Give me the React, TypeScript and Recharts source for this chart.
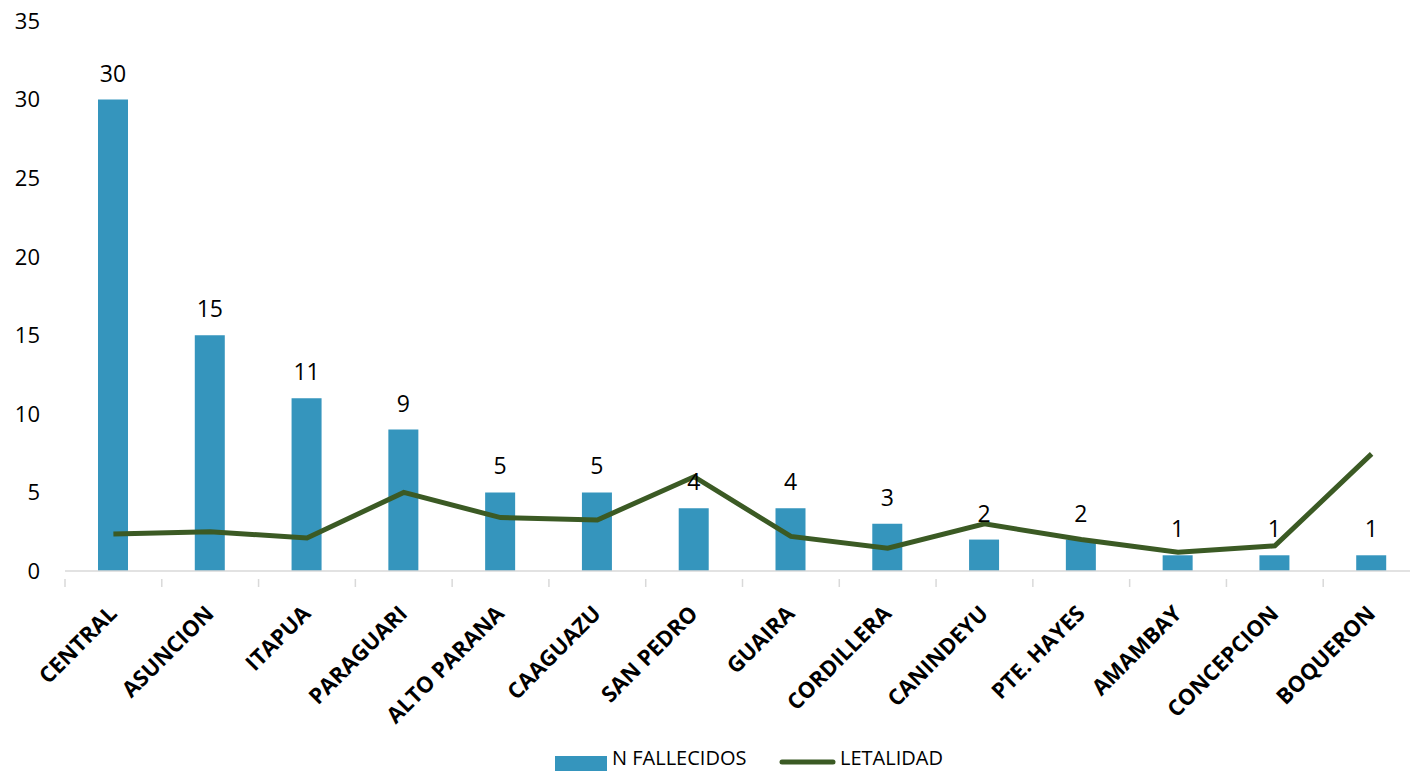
import { Bar, ComposedChart, LabelList, Line, XAxis, YAxis } from 'recharts'

const departamentos = [
  'CENTRAL',
  'ASUNCION',
  'ITAPUA',
  'PARAGUARI',
  'ALTO PARANA',
  'CAAGUAZU',
  'SAN PEDRO',
  'GUAIRA',
  'CORDILLERA',
  'CANINDEYU',
  'PTE. HAYES',
  'AMAMBAY',
  'CONCEPCION',
  'BOQUERON',
]
const fallecidos = [30, 15, 11, 9, 5, 5, 4, 4, 3, 2, 2, 1, 1, 1]
const letalidad = [2.35, 2.5, 2.1, 5.0, 3.4, 3.25, 6.0, 2.2, 1.45, 3.0, 2.0, 1.2, 1.6, 7.45]
const yTicks = [0, 5, 10, 15, 20, 25, 30, 35]

const BAR_COLOR = '#3595bd'
const LINE_COLOR = '#3b5a24'
const FONT = '"Open Sans", sans-serif'

const CHART_W = 1430
const CHART_H = 771
const PLOT_LEFT = 65
const PLOT_RIGHT = 1420
const BAND = (PLOT_RIGHT - PLOT_LEFT) / departamentos.length

const data = departamentos.map((name, i) => ({
  name,
  fallecidos: fallecidos[i],
  letalidad: letalidad[i],
}))

function CategoryTick(props: any) {
  const { x, y, payload } = props
  const left = x - BAND / 2
  const ax = x + 5
  const ay = y + 36
  return (
    <g>
      <line x1={left} y1={y} x2={left} y2={y + 8} stroke="#d9d9d9" strokeWidth={1.5} />
      <text
        x={ax}
        y={ay}
        textAnchor="end"
        transform={`rotate(-45 ${ax} ${ay})`}
        fontFamily={FONT}
        fontWeight={700}
        fontSize={22}
        fill="#000"
      >
        {payload.value}
      </text>
    </g>
  )
}

function ChartLegend() {
  return (
    <svg width={1410} height={771} style={{ position: 'absolute', left: 0, top: 0, pointerEvents: 'none' }}>
      <rect x={555} y={756} width={52} height={20} fill={BAR_COLOR} />
      <text x={612} y={765} fontFamily={FONT} fontSize={20} fill="#000">
        N FALLECIDOS
      </text>
      <line x1={782} y1={762} x2={833} y2={762} stroke={LINE_COLOR} strokeWidth={5} strokeLinecap="round" />
      <text x={840} y={765} fontFamily={FONT} fontSize={20} fill="#000">
        LETALIDAD
      </text>
    </svg>
  )
}

export default function App() {
  return (
    <div
      style={{
        position: 'fixed',
        left: 0,
        top: 0,
        width: 1410,
        height: 771,
        overflow: 'hidden',
        background: '#fff',
      }}
    >
      <ComposedChart
        width={CHART_W}
        height={CHART_H}
        data={data}
        margin={{ top: 21, right: CHART_W - PLOT_RIGHT, bottom: 0, left: 0 }}
      >
        <XAxis
          dataKey="name"
          height={200}
          interval={0}
          axisLine={{ stroke: '#d9d9d9', strokeWidth: 1.5 }}
          tickLine={false}
          tick={<CategoryTick />}
        />
        <YAxis
          width={PLOT_LEFT}
          domain={[0, 35]}
          ticks={yTicks}
          axisLine={false}
          tickLine={false}
          tickSize={0}
          tickMargin={25}
          tick={{ fontFamily: FONT, fontSize: 22, fill: '#000' }}
        />
        <Bar dataKey="fallecidos" fill={BAR_COLOR} barSize={30} isAnimationActive={false}>
          <LabelList
            dataKey="fallecidos"
            position="top"
            offset={18}
            style={{ fontFamily: FONT, fontSize: 23, fill: '#000' }}
          />
        </Bar>
        <Line
          dataKey="letalidad"
          type="linear"
          stroke={LINE_COLOR}
          strokeWidth={5}
          dot={false}
          activeDot={false}
          isAnimationActive={false}
        />
      </ComposedChart>
      <ChartLegend />
    </div>
  )
}
